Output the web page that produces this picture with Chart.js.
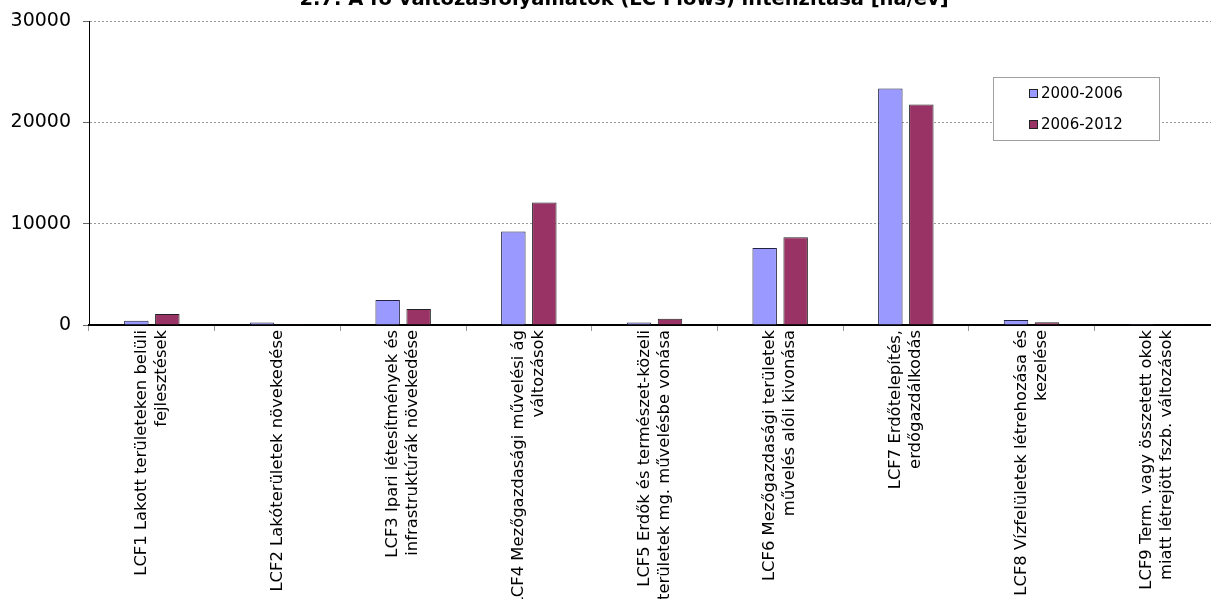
<!DOCTYPE html>
<html>
<head>
<meta charset="utf-8">
<script src="https://cdn.jsdelivr.net/npm/chart.js@4.4.1/dist/chart.umd.min.js"></script>
<style>
  html, body { margin: 0; padding: 0; background: #fff; overflow: hidden; width: 1211px; height: 599px; }
  #wrap { position: absolute; left: 0; top: 0; width: 1220px; height: 599px; }
  #title { position: absolute; left: 0; top: -13px; width: 1248px; text-align: center;
           font: bold 19.5px "DejaVu Sans"; line-height: 24px; color: #000; white-space: nowrap; z-index: 2; }
</style>
</head>
<body>
<div id="wrap"><canvas id="c"></canvas></div>
<div id="title">2.7. A fő változásfolyamatok (LC Flows) intenzitása [ha/év]</div>
<script>
const categories = [
  ["LCF1 Lakott területeken belüli", "fejlesztések"],
  ["LCF2 Lakóterületek növekedése"],
  ["LCF3 Ipari létesítmények és", "infrastruktúrák növekedése"],
  ["LCF4 Mezőgazdasági művelési ág", "változások"],
  ["LCF5 Erdők és természet-közeli", "területek mg. művelésbe vonása"],
  ["LCF6 Mezőgazdasági területek", "művelés alóli kivonása"],
  ["LCF7 Erdőtelepítés,", "erdőgazdálkodás"],
  ["LCF8 Vízfelületek létrehozása és", "kezelése"],
  ["LCF9 Term. vagy összetett okok", "miatt létrejött fszb. változások"]
];
const seriesNames = ["2000-2006", "2006-2012"];
const values2000_2006 = [420, 250, 2460, 9230, 240, 7600, 23350, 490, 110];
const values2006_2012 = [1085, 80, 1580, 12090, 610, 8650, 21770, 260, 70];
const yTicks = [0, 10000, 20000, 30000];

const xLabelPlugin = {
  id: 'xLabels',
  afterDraw(chart) {
    const xs = chart.scales.x;
    const ctx = chart.ctx;
    ctx.save();
    ctx.font = '16.4px "DejaVu Sans"';
    ctx.fillStyle = '#000';
    ctx.textAlign = 'right';
    ctx.textBaseline = 'middle';
    chart.data.labels.forEach((lines, i) => {
      const x = xs.getPixelForTick(i);
      ctx.save();
      ctx.translate(x, xs.top + 5);
      ctx.rotate(-Math.PI / 2);
      lines.forEach((line, j) => ctx.fillText(line, 0, (j - (lines.length - 1) / 2) * 20));
      ctx.restore();
    });
    ctx.restore();
  }
};

const legendPlugin = {
  id: 'boxLegend',
  afterDraw(chart) {
    const ctx = chart.ctx;
    ctx.save();
    ctx.fillStyle = '#fff';
    ctx.fillRect(993.5, 77.5, 166, 63);
    ctx.strokeStyle = '#a0a0a0';
    ctx.lineWidth = 1;
    ctx.strokeRect(993.5, 77.5, 166, 63);
    ctx.font = '15px "DejaVu Sans"';
    ctx.textAlign = 'left';
    ctx.textBaseline = 'middle';
    chart.data.datasets.forEach((ds, i) => {
      const y = 93.5 + i * 31;
      ctx.fillStyle = ds.backgroundColor;
      ctx.fillRect(1029.5, y - 4, 8, 8);
      ctx.strokeStyle = '#222';
      ctx.strokeRect(1029.5, y - 4, 8, 8);
      ctx.fillStyle = '#000';
      ctx.fillText(ds.label, 1041, y + 0.5);
    });
    ctx.restore();
  }
};

new Chart(document.getElementById('c'), {
  type: 'bar',
  data: {
    labels: categories,
    datasets: [
      { label: seriesNames[0], data: values2000_2006, backgroundColor: '#9999FF', borderColor: '#222244', borderWidth: 1,
        categoryPercentage: 0.493, barPercentage: 0.79 },
      { label: seriesNames[1], data: values2006_2012, backgroundColor: '#993366', borderColor: '#222222', borderWidth: 1,
        categoryPercentage: 0.493, barPercentage: 0.79 }
    ]
  },
  options: {
    responsive: true,
    maintainAspectRatio: false,
    animation: false,
    layout: { padding: { top: 21, left: 0, right: 0, bottom: 0 } },
    plugins: {
      legend: { display: false },
      title: { display: false },
      tooltip: { enabled: false }
    },
    scales: {
      x: {
        offset: true,
        grid: { display: true, drawOnChartArea: false, drawTicks: true, tickLength: 6, tickColor: '#999', offset: true },
        border: { display: true, color: '#000', width: 2 },
        ticks: { display: false },
        afterFit(scale) { scale.height = 599 - 325; scale.paddingLeft = 0; scale.paddingRight = 0; }
      },
      y: {
        min: 0,
        max: 30000,
        afterBuildTicks(scale) { scale.ticks = yTicks.map(v => ({ value: v })); },
        ticks: {
          font: { family: 'DejaVu Sans', size: 19 },
          color: '#000',
          padding: 12,
          callback: v => String(v)
        },
        grid: { color: '#999', tickColor: '#666', tickLength: 6, lineWidth: 1 },
        border: { display: true, color: '#000', width: 1, dash: [2, 2] },
        afterFit(scale) { scale.width = 89; scale.paddingTop = 0; scale.paddingBottom = 0; }
      }
    }
  },
  plugins: [xLabelPlugin, legendPlugin]
});
</script>
</body>
</html>
